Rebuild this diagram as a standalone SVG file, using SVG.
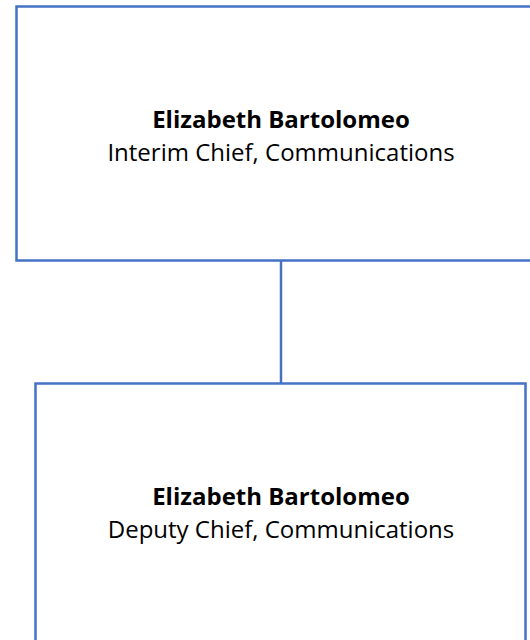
<svg xmlns="http://www.w3.org/2000/svg" width="530" height="640" viewBox="0 0 530 640">
<style>
.box{fill:#FFFFFF;stroke:#4472C4;stroke-width:2.5}
.conn{fill:none;stroke:#4472C4;stroke-width:2.5}
.name{font-family:"Open Sans","Noto Sans",sans-serif;font-weight:bold;font-size:24px;fill:#000000;text-anchor:middle}
.title{font-family:"Open Sans","Noto Sans",sans-serif;font-size:24px;fill:#000000;text-anchor:middle}
</style>
<rect width="530" height="640" fill="#FFFFFF"/>
<g id="connectors">
<line class="conn" x1="281" y1="260.5" x2="281" y2="383.5"/>
</g>
<g id="node-interim">
<rect class="box" x="16.5" y="6.5" width="530" height="254"/>
<text class="name" x="281" y="128">Elizabeth Bartolomeo</text>
<text class="title" x="281" y="161">Interim Chief, Communications</text>
</g>
<g id="node-deputy">
<rect class="box" x="35.5" y="383.5" width="490" height="270"/>
<text class="name" x="281" y="505">Elizabeth Bartolomeo</text>
<text class="title" x="281" y="538">Deputy Chief, Communications</text>
</g>
</svg>
